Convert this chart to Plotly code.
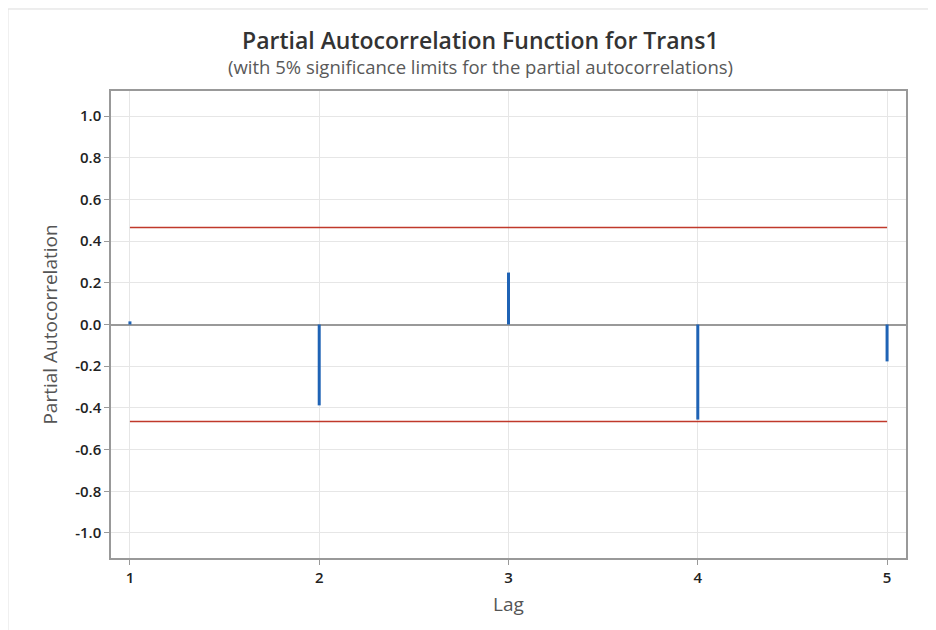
import plotly.graph_objects as go

lags = [1, 2, 3, 4, 5]
pacf = [0.015, -0.388, 0.249, -0.456, -0.177]
sig_limit = 0.465
y_ticks = [1.0, 0.8, 0.6, 0.4, 0.2, 0.0, -0.2, -0.4, -0.6, -0.8, -1.0]

title_text = "Partial Autocorrelation Function for Trans1"
subtitle_text = "(with 5% significance limits for the partial autocorrelations)"

stem_x, stem_y = [], []
for l, v in zip(lags, pacf):
    stem_x += [l, l, None]
    stem_y += [0, v, None]

fig = go.Figure()
fig.add_trace(go.Scatter(x=[lags[0], lags[-1]], y=[sig_limit, sig_limit], mode="lines",
                         line=dict(color="#c0392b", width=1.5), hoverinfo="skip", showlegend=False))
fig.add_trace(go.Scatter(x=[lags[0], lags[-1]], y=[-sig_limit, -sig_limit], mode="lines",
                         line=dict(color="#c0392b", width=1.5), hoverinfo="skip", showlegend=False))
fig.add_trace(go.Scatter(x=stem_x, y=stem_y, mode="lines",
                         line=dict(color="#1f63b5", width=3), showlegend=False))

font_family = "Open Sans, Noto Sans, sans-serif"
fig.update_layout(
    width=936, height=630,
    margin=dict(l=103, r=38, t=83, b=80),
    paper_bgcolor="white", plot_bgcolor="white",
    font=dict(family=font_family, color="#333333"),
    xaxis=dict(range=[0.9, 5.1], tickvals=lags, ticktext=[str(l) for l in lags],
               showgrid=True, gridcolor="#e6e6e6", gridwidth=1,
               showline=True, linecolor="#999999", linewidth=1.5, mirror=True,
               ticks="outside", ticklen=5, tickcolor="#999999",
               tickfont=dict(size=15, color="#222222", weight=600), zeroline=False,
               title=dict(text="Lag", font=dict(size=19, color="#555555"), standoff=12)),
    yaxis=dict(range=[-1.12, 1.12], tickvals=y_ticks, ticktext=[f"{v:.1f}" for v in y_ticks],
               showgrid=True, gridcolor="#e6e6e6", gridwidth=1,
               showline=True, linecolor="#999999", linewidth=1.5, mirror=True,
               ticks="outside", ticklen=5, tickcolor="#999999",
               tickfont=dict(size=15, color="#222222", weight=600),
               zeroline=True, zerolinecolor="#999999", zerolinewidth=1.5,
               title=dict(text="Partial Autocorrelation", font=dict(size=19, color="#555555"), standoff=13)),
    annotations=[
        dict(text=title_text, xref="paper", yref="paper", x=0.4654, y=1.1092,
             xanchor="center", yanchor="middle", showarrow=False,
             font=dict(size=23, color="#333333", weight=600)),
        dict(text=subtitle_text, xref="paper", yref="paper", x=0.4654, y=1.0535,
             xanchor="center", yanchor="middle", showarrow=False,
             font=dict(size=18.5, color="#595959")),
    ],
    shapes=[
        dict(type="line", xref="paper", yref="paper", x0=-0.1296, x1=1.2, y0=1.1756, y1=1.1756,
             line=dict(color="#dddddd", width=1)),
        dict(type="line", xref="paper", yref="paper", x0=-0.1296, x1=-0.1296, y0=-0.3, y1=1.1756,
             line=dict(color="#dddddd", width=1)),
    ],
)

fig.write_html("out.html")
